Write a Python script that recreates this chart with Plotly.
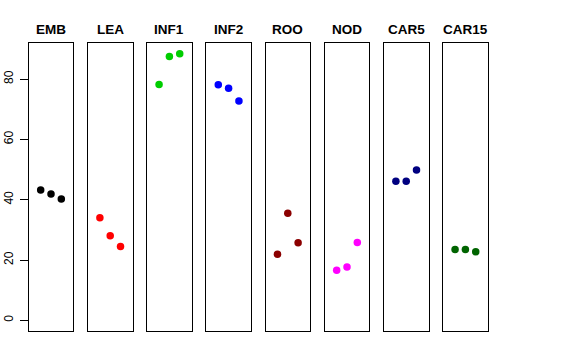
import plotly.graph_objects as go

tissues = ["EMB", "LEA", "INF1", "INF2", "ROO", "NOD", "CAR5", "CAR15"]
colors = ["#000000", "#FF0000", "#00CD00", "#0000FF", "#8B0000", "#FF00FF", "#000080", "#006400"]
x_pos = [1, 2, 3]
EMB = [43.2, 41.9, 40.2]
LEA = [34.0, 28.0, 24.5]
INF1 = [78.2, 87.5, 88.4]
INF2 = [78.1, 76.9, 72.7]
ROO = [21.9, 35.5, 25.7]
NOD = [16.6, 17.7, 25.8]
CAR5 = [46.1, 46.1, 49.8]
CAR15 = [23.5, 23.5, 22.7]
series = [EMB, LEA, INF1, INF2, ROO, NOD, CAR5, CAR15]
y_ticks = [0, 20, 40, 60, 80]

W, H = 576, 360
left0, pw, step = 28.7, 44.6, 59.2
top, bottom = 43, 331

fig = go.Figure()
layout = dict(
    width=W, height=H, margin=dict(l=0, r=0, t=0, b=0, pad=0, autoexpand=False),
    paper_bgcolor="white", plot_bgcolor="white", showlegend=False,
    font=dict(family="Liberation Sans, Arial, sans-serif", color="black"),
)
annotations = []
ydom = [1 - bottom / H, 1 - top / H]
for i, (name, vals, col) in enumerate(zip(tissues, series, colors)):
    xa = "x" if i == 0 else f"x{i+1}"
    ya = "y" if i == 0 else f"y{i+1}"
    fig.add_trace(go.Scatter(x=x_pos, y=vals, mode="markers", xaxis=xa, yaxis=ya,
                             marker=dict(color=col, size=7.5, line=dict(width=0))))
    x0 = (left0 + step * i) / W
    x1 = (left0 + step * i + pw) / W
    kx = "xaxis" if i == 0 else f"xaxis{i+1}"
    ky = "yaxis" if i == 0 else f"yaxis{i+1}"
    layout[kx] = dict(domain=[x0, x1], range=[-0.16, 4.16], showline=True, mirror=True,
                      linecolor="black", linewidth=1, showgrid=False, zeroline=False,
                      showticklabels=False, ticks="", anchor=ya)
    yax = dict(domain=ydom, range=[-3.54, 91.94], showline=True, mirror=True,
               linecolor="black", linewidth=1, showgrid=False, zeroline=False,
               anchor=xa)
    if i == 0:
        yax.update(tickvals=y_ticks, ticks="outside", ticklen=8, tickcolor="black",
                   tickangle=-90, tickfont=dict(size=12, color="black"),
                   ticklabelstandoff=2)
    else:
        yax.update(showticklabels=False, ticks="")
    layout[ky] = yax
    annotations.append(dict(text=f"<b>{name}</b>", x=(x0 + x1) / 2, y=1 - 29 / H,
                            xref="paper", yref="paper", showarrow=False,
                            font=dict(size=13.5, color="black"),
                            xanchor="center", yanchor="middle"))
layout["annotations"] = annotations
fig.update_layout(**layout)
fig.write_html("out.html", config={"displayModeBar": False},
               post_script="document.body.style.margin='0';")
